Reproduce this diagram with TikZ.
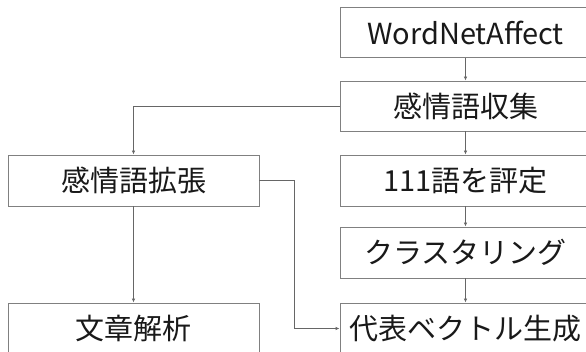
\documentclass[tikz,border=0pt]{standalone}
\usepackage{fontspec}
\setmainfont{Noto Sans CJK JP}
\usetikzlibrary{arrows.meta}
\tikzset{
  boxnode/.style={draw=black!50, line width=0.9pt, minimum width=251pt, minimum height=50pt,
    inner sep=0pt, font=\fontsize{29}{32}\selectfont, text=black!90},
  conn/.style={draw=black!60, line width=0.8pt, -{Latex[length=4pt,width=3.5pt]}}
}
\begin{document}
\begin{tikzpicture}[x=1pt,y=-1pt]
\useasboundingbox (0,0) rectangle (586,352);
\clip (0,0) rectangle (586,352);
\node[boxnode] (wna) at (465.5,32.5) {WordNetAffect};
\node[boxnode] (col) at (465.5,106) {感情語収集};
\node[boxnode, minimum height=51pt] (hyo) at (465.5,180.5) {111語を評定};
\node[boxnode, minimum height=51pt] (clu) at (465.5,252.5) {クラスタリング};
\node[boxnode, minimum height=51pt] (rep) at (465.5,328.5) {代表ベクトル生成};
\node[boxnode, minimum height=51pt] (ext) at (133.5,180.5) {感情語拡張};
\node[boxnode, minimum height=51pt] (doc) at (133.5,328.5) {文章解析};
\draw[conn] (wna) -- (col);
\draw[conn] (col) -- (hyo);
\draw[conn] (hyo) -- (clu);
\draw[conn] (clu) -- (rep);
\draw[conn] (col.west) -| (ext.north);
\draw[conn] (ext) -- (doc);
\draw[conn] (ext.east) -- ++(35,0) |- (rep.west);
\end{tikzpicture}
\end{document}
